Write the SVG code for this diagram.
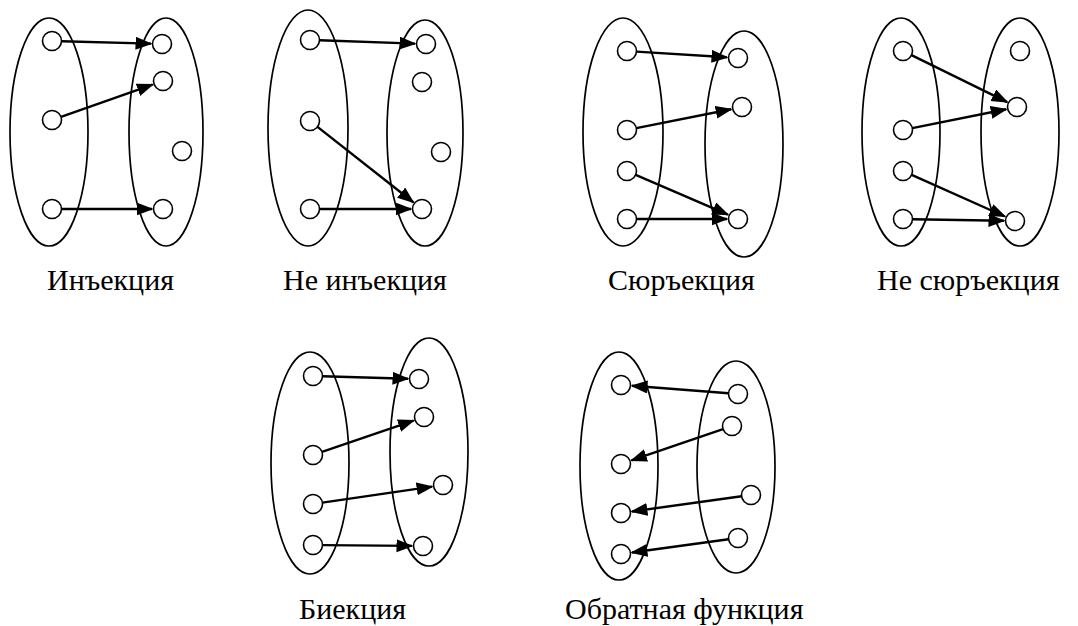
<svg xmlns="http://www.w3.org/2000/svg" width="1078" height="626" viewBox="0 0 1078 626">
<defs>
<marker id="ah" markerUnits="userSpaceOnUse" markerWidth="18" markerHeight="14" refX="15.5" refY="6.5" orient="auto">
<path d="M0,0 L17,6.5 L0,13 z" fill="#000"/>
</marker>
<style>
.set{fill:none;stroke:#000;stroke-width:1.7}
.el{fill:#fff;stroke:#000;stroke-width:1.6}
.arr{fill:none;stroke:#000;stroke-width:2.4;marker-end:url(#ah)}
.lbl{font-family:"Liberation Serif","Times New Roman",serif;font-size:30px;fill:#000}
</style>
</defs>
<rect width="1078" height="626" fill="#fff"/>

<g id="injection">
<ellipse class="set" cx="49" cy="132" rx="39" ry="114"/>
<ellipse class="set" cx="166" cy="132" rx="37" ry="114"/>
<circle class="el" cx="52" cy="41" r="9.5"/>
<circle class="el" cx="52" cy="120" r="9.5"/>
<circle class="el" cx="52" cy="209" r="9.5"/>
<circle class="el" cx="162" cy="44" r="9.5"/>
<circle class="el" cx="163" cy="81" r="9.5"/>
<circle class="el" cx="182" cy="151" r="9.5"/>
<circle class="el" cx="163" cy="209" r="9.5"/>
<text class="lbl" x="47" y="290">Инъекция</text>
</g>

<g id="not-injection">
<ellipse class="set" cx="308" cy="128" rx="40" ry="118"/>
<ellipse class="set" cx="425" cy="133" rx="38" ry="113"/>
<circle class="el" cx="310" cy="40" r="9.5"/>
<circle class="el" cx="310" cy="121" r="9.5"/>
<circle class="el" cx="310" cy="209" r="9.5"/>
<circle class="el" cx="426" cy="44" r="9.5"/>
<circle class="el" cx="422" cy="82" r="9.5"/>
<circle class="el" cx="441" cy="152" r="9.5"/>
<circle class="el" cx="422" cy="209" r="9.5"/>
<text class="lbl" x="283" y="290">Не инъекция</text>
</g>

<g id="surjection">
<ellipse class="set" cx="623" cy="132" rx="40" ry="114"/>
<ellipse class="set" cx="744" cy="144" rx="39" ry="113"/>
<circle class="el" cx="627" cy="51" r="9.5"/>
<circle class="el" cx="627" cy="130" r="9.5"/>
<circle class="el" cx="627" cy="171" r="9.5"/>
<circle class="el" cx="627" cy="219" r="9.5"/>
<circle class="el" cx="738" cy="58" r="9.5"/>
<circle class="el" cx="742" cy="107" r="9.5"/>
<circle class="el" cx="738" cy="219" r="9.5"/>
<text class="lbl" x="608" y="290">Сюръекция</text>
</g>

<g id="not-surjection">
<ellipse class="set" cx="901" cy="132" rx="39" ry="114"/>
<ellipse class="set" cx="1020" cy="132" rx="39" ry="114"/>
<circle class="el" cx="903" cy="51" r="9.5"/>
<circle class="el" cx="903" cy="130" r="9.5"/>
<circle class="el" cx="903" cy="171" r="9.5"/>
<circle class="el" cx="903" cy="219" r="9.5"/>
<circle class="el" cx="1020" cy="51" r="9.5"/>
<circle class="el" cx="1017" cy="107" r="9.5"/>
<circle class="el" cx="1015" cy="221" r="9.5"/>
<text class="lbl" x="877" y="290">Не сюръекция</text>
</g>

<g id="bijection">
<ellipse class="set" cx="310" cy="463" rx="39" ry="111"/>
<ellipse class="set" cx="429" cy="452" rx="39" ry="114"/>
<circle class="el" cx="313" cy="376" r="9.5"/>
<circle class="el" cx="313" cy="455" r="9.5"/>
<circle class="el" cx="313" cy="504" r="9.5"/>
<circle class="el" cx="313" cy="545" r="9.5"/>
<circle class="el" cx="419" cy="379" r="9.5"/>
<circle class="el" cx="424" cy="417" r="9.5"/>
<circle class="el" cx="443" cy="485" r="9.5"/>
<circle class="el" cx="423" cy="546" r="9.5"/>
<text class="lbl" x="299" y="619">Биекция</text>
</g>

<g id="inverse">
<ellipse class="set" cx="619" cy="466" rx="39" ry="114"/>
<ellipse class="set" cx="736" cy="467" rx="39" ry="106"/>
<circle class="el" cx="621" cy="385" r="9.5"/>
<circle class="el" cx="621" cy="464" r="9.5"/>
<circle class="el" cx="621" cy="513" r="9.5"/>
<circle class="el" cx="621" cy="554" r="9.5"/>
<circle class="el" cx="738" cy="394" r="9.5"/>
<circle class="el" cx="732" cy="426" r="9.5"/>
<circle class="el" cx="751" cy="495" r="9.5"/>
<circle class="el" cx="738" cy="538" r="9.5"/>
<text class="lbl" x="565" y="619">Обратная функция</text>
</g>

<g id="connectors">
<line class="arr" x1="61.5" y1="41.3" x2="151" y2="43.6"/>
<line class="arr" x1="61" y1="116.9" x2="152.6" y2="84.6"/>
<line class="arr" x1="61.5" y1="209" x2="152" y2="209"/>

<line class="arr" x1="319.5" y1="40.3" x2="415" y2="43.6"/>
<line class="arr" x1="317.5" y1="126.9" x2="413.3" y2="202.2"/>
<line class="arr" x1="319.5" y1="209" x2="411" y2="209"/>

<line class="arr" x1="636.5" y1="51.6" x2="727" y2="57.3"/>
<line class="arr" x1="636.3" y1="128.1" x2="731.2" y2="109.2"/>
<line class="arr" x1="635.7" y1="174.8" x2="727.9" y2="214.6"/>
<line class="arr" x1="636.5" y1="219" x2="727" y2="219"/>

<line class="arr" x1="911.5" y1="55.2" x2="1007.2" y2="102.1"/>
<line class="arr" x1="912.3" y1="128.1" x2="1006.2" y2="109.2"/>
<line class="arr" x1="911.7" y1="174.9" x2="1004.9" y2="216.5"/>
<line class="arr" x1="912.5" y1="219.2" x2="1004" y2="220.8"/>

<line class="arr" x1="322.5" y1="376.3" x2="408" y2="378.7"/>
<line class="arr" x1="322" y1="451.9" x2="413.6" y2="420.6"/>
<line class="arr" x1="322.4" y1="502.6" x2="432.1" y2="486.6"/>
<line class="arr" x1="322.5" y1="545.1" x2="412" y2="545.9"/>

<line class="arr" x1="728.5" y1="393.3" x2="632" y2="385.8"/>
<line class="arr" x1="723" y1="429.1" x2="631.4" y2="460.4"/>
<line class="arr" x1="741.6" y1="496.3" x2="631.9" y2="511.5"/>
<line class="arr" x1="728.6" y1="539.3" x2="631.9" y2="552.5"/>
</g>
</svg>
